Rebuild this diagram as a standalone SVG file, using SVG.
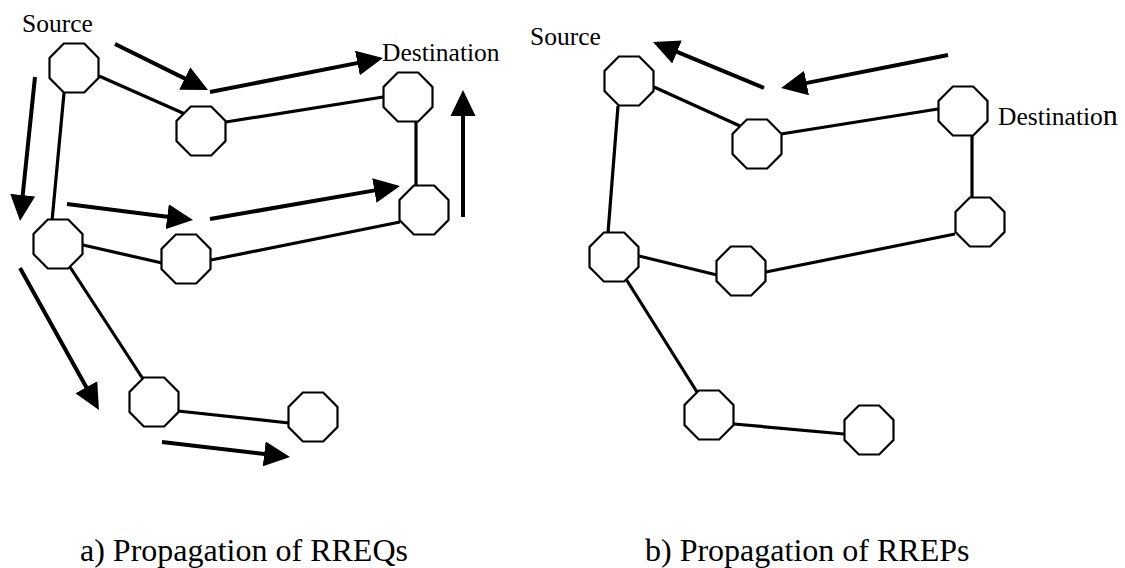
<svg xmlns="http://www.w3.org/2000/svg" xmlns:xlink="http://www.w3.org/1999/xlink" width="1125" height="568" viewBox="0 0 1125 568">
<style>
.edge{stroke:#000;stroke-width:3.2;fill:none}
.arr{stroke:#000;stroke-width:4;fill:none;marker-end:url(#head)}
.node{fill:#fff;stroke:#000;stroke-width:2.2}
</style>
<defs>
<polygon id="oct" points="-10.15,-24.5 10.15,-24.5 24.5,-10.15 24.5,10.15 10.15,24.5 -10.15,24.5 -24.5,10.15 -24.5,-10.15"/>
<marker id="head" markerUnits="userSpaceOnUse" viewBox="-2 -13 28 26" markerWidth="28" markerHeight="26" refX="0" refY="0" orient="auto">
<path d="M-2,-12.5 L24,0 L-2,12.5 z" fill="#000"/>
</marker>
</defs>
<g id="connectors">
<line class="edge" x1="64" y1="93" x2="52" y2="221"/>
<line class="edge" x1="99" y1="76" x2="185" y2="114"/>
<line class="edge" x1="226" y1="122" x2="383" y2="97"/>
<line class="edge" x1="416" y1="122" x2="416" y2="186"/>
<line class="edge" x1="83" y1="245" x2="162" y2="263"/>
<line class="edge" x1="211" y1="260" x2="400" y2="222"/>
<line class="edge" x1="70" y1="267" x2="143" y2="379"/>
<line class="edge" x1="178" y1="411" x2="289" y2="423"/>
<line class="arr" x1="115" y1="44" x2="186.5" y2="79.4"/>
<line class="arr" x1="210" y1="92" x2="359.4" y2="62.6"/>
<line class="arr" x1="463" y1="217" x2="463" y2="114"/>
<line class="arr" x1="35" y1="77" x2="22.5" y2="197.1"/>
<line class="arr" x1="67" y1="204" x2="169.2" y2="217"/>
<line class="arr" x1="210" y1="219" x2="376.3" y2="190.1"/>
<line class="arr" x1="20" y1="268" x2="87.3" y2="389"/>
<line class="arr" x1="162" y1="442" x2="266.2" y2="454.2"/>
<line class="edge" x1="618" y1="106" x2="608" y2="233"/>
<line class="edge" x1="654" y1="87" x2="740" y2="126"/>
<line class="edge" x1="781" y1="134" x2="938" y2="109"/>
<line class="edge" x1="972" y1="136" x2="972" y2="197"/>
<line class="edge" x1="639" y1="256" x2="717" y2="275"/>
<line class="edge" x1="766" y1="272" x2="955" y2="234"/>
<line class="edge" x1="626" y1="279" x2="697" y2="392"/>
<line class="edge" x1="734" y1="424" x2="844" y2="434"/>
<line class="arr" x1="764" y1="88" x2="675.2" y2="51.2"/>
<line class="arr" x1="948" y1="55" x2="804.6" y2="83.4"/>
</g>
<g id="L1"><use href="#oct" class="node" x="74" y="68"/></g>
<g id="L2"><use href="#oct" class="node" x="201" y="131"/></g>
<g id="L3"><use href="#oct" class="node" x="408" y="97"/></g>
<g id="L4"><use href="#oct" class="node" x="424" y="210"/></g>
<g id="L5"><use href="#oct" class="node" x="58" y="244"/></g>
<g id="L6"><use href="#oct" class="node" x="186" y="259"/></g>
<g id="L7"><use href="#oct" class="node" x="154" y="402"/></g>
<g id="L8"><use href="#oct" class="node" x="313" y="417"/></g>
<g id="R1"><use href="#oct" class="node" x="629" y="81"/></g>
<g id="R2"><use href="#oct" class="node" x="757" y="144"/></g>
<g id="R3"><use href="#oct" class="node" x="963" y="111"/></g>
<g id="R4"><use href="#oct" class="node" x="980" y="222"/></g>
<g id="R5"><use href="#oct" class="node" x="614" y="257"/></g>
<g id="R6"><use href="#oct" class="node" x="741" y="271"/></g>
<g id="R7"><use href="#oct" class="node" x="709" y="415"/></g>
<g id="R8"><use href="#oct" class="node" x="869" y="430"/></g>
<g id="labels" font-family="'Liberation Serif', 'DejaVu Serif', serif" fill="#000">
<text font-size="25.5" x="22" y="32">Source</text>
<text font-size="25.5" x="382" y="61">Destination</text>
<text font-size="25.5" x="530" y="45">Source</text>
<text font-size="25.5" x="998" y="125">Destinatio<tspan font-size="30">n</tspan></text>
<text font-size="32" x="80" y="561">a) Propagation of RREQs</text>
<text font-size="32" x="645" y="561">b) Propagation of RREPs</text>
</g>
</svg>
